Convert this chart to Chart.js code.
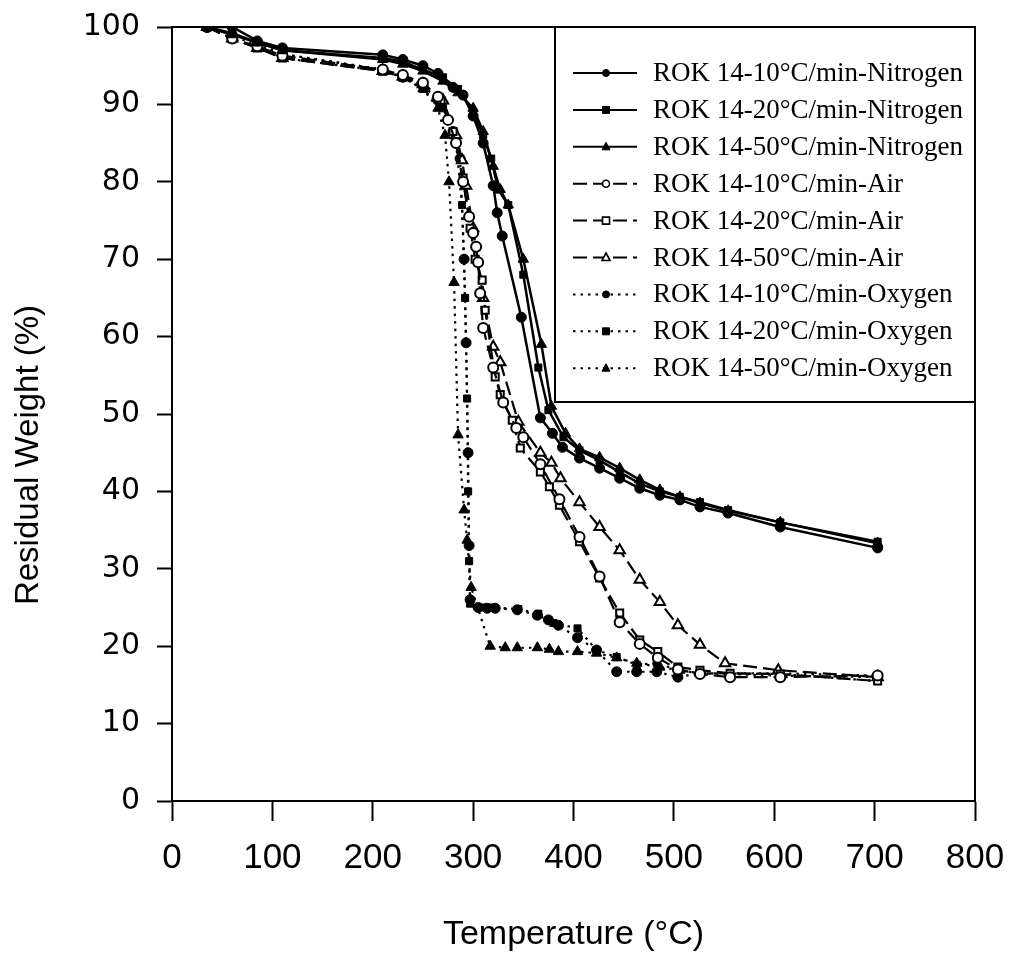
<!DOCTYPE html>
<html>
<head>
<meta charset="utf-8">
<script src="https://cdn.jsdelivr.net/npm/chart.js@4.4.1/dist/chart.umd.min.js"></script>
<style>
  html, body { margin: 0; padding: 0; background: #fff; }
  #wrap { width: 1013px; height: 953px; }
</style>
</head>
<body>
<div id="wrap"><canvas id="tga" width="1013" height="953"></canvas></div>
<script>
// TGA curves of ROK 14: [temperature °C, residual weight %]
const nitrogen10 = [[35,100],[60,100],[85,98.2],[110,97.3],[210,96.4],[230,95.8],[250,95],[265,94],[280,92.2],[290,91.2],[300,88.5],[310,85],[320,79.5],[324,76],[329,73],[348,62.5],[367,49.5],[379,47.5],[389,45.7],[406,44.3],[426,43],[446,41.7],[466,40.4],[486,39.5],[506,38.9],[526,38],[554,37.2],[606,35.4],[703,32.7]];
const nitrogen20 = [[35,100],[60,99.2],[85,98],[110,97],[210,96],[230,95.5],[250,94.5],[270,93.5],[285,92],[300,89],[310,86],[318,83],[325,79],[335,77],[350,68],[365,56],[375,50.5],[390,47],[406,45.3],[426,44],[446,42.5],[466,41],[486,40],[506,39.3],[526,38.6],[554,37.6],[606,36],[703,33.5]];
const nitrogen50 = [[35,100],[60,99],[85,98],[110,97],[210,95.8],[230,95.2],[250,94.3],[270,93],[285,91.5],[300,89.5],[310,86.5],[320,82],[327,79],[335,77],[350,70],[368,59],[378,51],[392,47.5],[406,45.5],[426,44.4],[446,43],[466,41.5],[486,40.2],[506,39.3],[526,38.5],[554,37.5],[606,36],[703,33.3]];
const air10 = [[35,100],[60,98.5],[85,97.5],[110,96.3],[210,94.5],[230,93.8],[250,92.8],[265,91],[275,88],[283,85],[290,80],[296,75.5],[300,73.4],[303,71.6],[305,69.6],[307,65.6],[310,61.1],[320,56],[330,51.5],[343,48.2],[350,47],[367,43.5],[386,39],[406,34.1],[426,29],[446,23.1],[466,20.3],[484,18.5],[504,17],[526,16.4],[556,16],[606,16],[703,16.2]];
const air20 = [[35,100],[60,98.5],[85,97.3],[110,96],[210,94.3],[230,93.5],[250,92.5],[268,90.5],[280,86.5],[290,80.5],[297,74],[302,70],[309,67.3],[312,63.4],[322,54.8],[327,52.5],[339,49.2],[347,45.6],[367,42.5],[376,40.6],[386,38.2],[406,33.5],[426,28.8],[446,24.3],[466,20.8],[484,19.3],[504,17.3],[526,16.9],[556,16.5],[606,16.4],[703,15.5]];
const air50 = [[35,100],[60,98.5],[85,97.3],[110,96],[210,94.3],[230,93.6],[250,92.6],[270,90.5],[283,86],[289,82.8],[293,79.5],[300,74],[310,65],[320,58.7],[327,56.7],[345,49],[367,45],[378,43.7],[387,41.7],[406,38.6],[426,35.4],[446,32.4],[466,28.6],[486,25.7],[504,22.7],[526,20.2],[551,17.8],[604,16.9],[703,16]];
const oxygen10 = [[35,100],[60,99],[85,98],[110,96.5],[210,94.5],[230,93.5],[250,92.5],[265,90.5],[280,86.5],[287,83],[291,70],[293,59.2],[295,45],[296,33],[297,26],[305,25],[314,24.9],[322,24.9],[344,24.7],[364,24],[375,23.4],[385,22.7],[404,21.1],[423,19.5],[443,16.7],[463,16.7],[483,16.7],[504,16],[526,16.5],[606,16.2],[703,16]];
const oxygen20 = [[35,100],[60,99],[85,98],[110,96],[210,94.3],[230,93.5],[250,92],[270,89.5],[283,85],[289,77],[292,65],[294,52],[295,40],[296,31],[297,25.5],[310,25],[320,25],[345,24.8],[365,24.2],[380,23],[404,22.3],[423,19.5],[443,18.6],[463,17.6],[483,17.8],[504,16.9],[526,16.5],[606,16.4],[703,15.5]];
const oxygen50 = [[35,100],[60,99],[85,97.5],[110,96.5],[210,94.5],[230,93.5],[250,92],[265,89.5],[272,86],[276,80],[281,67],[285,47.3],[291,37.6],[294,33.7],[298,27.6],[317,20],[332,19.8],[344,19.8],[364,19.8],[376,19.6],[385,19.3],[404,19.3],[423,19.1],[443,18.5],[463,17.8],[486,17.3],[506,16.9],[526,16.5],[606,16.5],[703,16.2]];

const seriesLabels = [
  'ROK 14-10°C/min-Nitrogen', 'ROK 14-20°C/min-Nitrogen', 'ROK 14-50°C/min-Nitrogen',
  'ROK 14-10°C/min-Air', 'ROK 14-20°C/min-Air', 'ROK 14-50°C/min-Air',
  'ROK 14-10°C/min-Oxygen', 'ROK 14-20°C/min-Oxygen', 'ROK 14-50°C/min-Oxygen'
];
const xTicks = [0, 100, 200, 300, 400, 500, 600, 700, 800];
const yTicks = [0, 10, 20, 30, 40, 50, 60, 70, 80, 90, 100];
const yTitle = 'Residual Weight (%)';
const xTitle = 'Temperature (°C)';

const seriesData = [nitrogen10, nitrogen20, nitrogen50, air10, air20, air50, oxygen10, oxygen20, oxygen50];

// line and marker style for each atmosphere / heating rate
const dashFor = ['solid', 'solid', 'solid', 'dash', 'dash', 'dash', 'dot', 'dot', 'dot'];
const markerFor = ['circle', 'rect', 'triangle', 'circle', 'rect', 'triangle', 'circle', 'rect', 'triangle'];
const filledFor = [true, true, true, false, false, false, true, true, true];

function dashPattern(kind) {
  if (kind === 'dash') return [14, 6];
  if (kind === 'dot') return [2.5, 5];
  return [];
}
function markerRadius(shape) {
  return shape === 'triangle' ? 6 : 5;
}

const datasets = seriesData.map((pts, i) => ({
  label: seriesLabels[i],
  data: pts.map(p => ({ x: p[0], y: p[1] })),
  showLine: true,
  borderColor: '#000',
  borderWidth: dashFor[i] === 'solid' ? 2.5 : 2.2,
  borderDash: dashPattern(dashFor[i]),
  pointStyle: markerFor[i],
  pointRadius: markerRadius(markerFor[i]),
  pointBorderWidth: filledFor[i] ? 1 : 2,
  pointBorderColor: '#000',
  pointBackgroundColor: filledFor[i] ? '#000' : '#fff',
  tension: 0
}));

const sansFamily = '"Liberation Sans", Arial, Helvetica, sans-serif';

// box around the plot, the vertical axis title and the boxed key in the upper right
const framePlugin = {
  id: 'frameAndKey',
  afterDraw(chart) {
    const { ctx, chartArea: a } = chart;
    ctx.save();
    ctx.strokeStyle = '#000';
    ctx.lineWidth = 2;
    ctx.beginPath();
    ctx.moveTo(a.left, a.top);
    ctx.lineTo(a.right, a.top);
    ctx.lineTo(a.right, a.bottom);
    ctx.stroke();

    // y axis title, sitting a little below the middle of the axis
    ctx.save();
    ctx.translate(29, 455);
    ctx.rotate(-Math.PI / 2);
    ctx.font = '33px ' + sansFamily;
    ctx.fillStyle = '#000';
    ctx.textAlign = 'center';
    ctx.textBaseline = 'middle';
    ctx.fillText(yTitle, 0, 0);
    ctx.restore();

    const boxL = 555, boxT = a.top, boxR = a.right, boxB = 402;
    ctx.fillStyle = '#fff';
    ctx.fillRect(boxL, boxT, boxR - boxL, boxB - boxT);
    ctx.strokeRect(boxL, boxT, boxR - boxL, boxB - boxT);

    const rowY0 = 73, rowStep = 36.9;
    const lineL = 573, lineR = 637, markX = 606;
    ctx.font = '27px "Liberation Serif", "Times New Roman", serif';
    ctx.textBaseline = 'middle';
    ctx.textAlign = 'left';
    datasets.forEach((ds, i) => {
      const y = rowY0 + i * rowStep;
      ctx.save();
      ctx.lineWidth = 2;
      ctx.setLineDash(ds.borderDash);
      ctx.beginPath();
      ctx.moveTo(lineL, y);
      ctx.lineTo(lineR, y);
      ctx.stroke();
      ctx.restore();
      ctx.save();
      ctx.lineWidth = filledFor[i] ? 1 : 1.6;
      ctx.fillStyle = filledFor[i] ? '#000' : '#fff';
      const r = 3.5;
      ctx.beginPath();
      if (markerFor[i] === 'circle') {
        ctx.arc(markX, y, r, 0, Math.PI * 2);
      } else if (markerFor[i] === 'rect') {
        ctx.rect(markX - r, y - r, 2 * r, 2 * r);
      } else {
        ctx.moveTo(markX, y - r - 1);
        ctx.lineTo(markX + r + 0.5, y + r - 0.5);
        ctx.lineTo(markX - r - 0.5, y + r - 0.5);
        ctx.closePath();
      }
      ctx.fill();
      ctx.stroke();
      ctx.restore();
      ctx.fillStyle = '#000';
      ctx.fillText(seriesLabels[i], 653, y + 1);
    });
    ctx.restore();
  }
};

function noOverflow(s) {
  s.paddingTop = 0; s.paddingBottom = 0; s.paddingLeft = 0; s.paddingRight = 0;
}

new Chart(document.getElementById('tga'), {
  type: 'scatter',
  data: { datasets },
  plugins: [framePlugin],
  options: {
    responsive: false,
    animation: false,
    layout: { padding: { left: 0, top: 27, right: 38, bottom: 0 } },
    plugins: { legend: { display: false }, tooltip: { enabled: false } },
    scales: {
      x: {
        type: 'linear',
        min: 0, max: 800,
        afterBuildTicks: s => { s.ticks = xTicks.map(v => ({ value: v })); },
        afterFit: s => { s.height = 152; noOverflow(s); },
        border: { display: true, color: '#000', width: 2 },
        grid: { display: true, drawOnChartArea: false, drawTicks: true, tickLength: 20, tickColor: '#000', tickWidth: 2 },
        ticks: { color: '#000', font: { family: sansFamily, size: 35 }, padding: 16, maxRotation: 0 },
        title: { display: true, text: xTitle, color: '#000', font: { family: sansFamily, size: 34 }, padding: { top: 0, bottom: -2 } }
      },
      y: {
        type: 'linear',
        min: 0, max: 100,
        afterBuildTicks: s => { s.ticks = yTicks.map(v => ({ value: v })); },
        afterFit: s => { s.width = 172; noOverflow(s); },
        border: { display: true, color: '#000', width: 2 },
        grid: { display: true, drawOnChartArea: false, drawTicks: true, tickLength: 15, tickColor: '#000', tickWidth: 2 },
        ticks: { color: '#000', font: { family: '"DejaVu Sans", sans-serif', size: 30 }, padding: 17 },
        title: { display: false }
      }
    }
  }
});
</script>
</body>
</html>
